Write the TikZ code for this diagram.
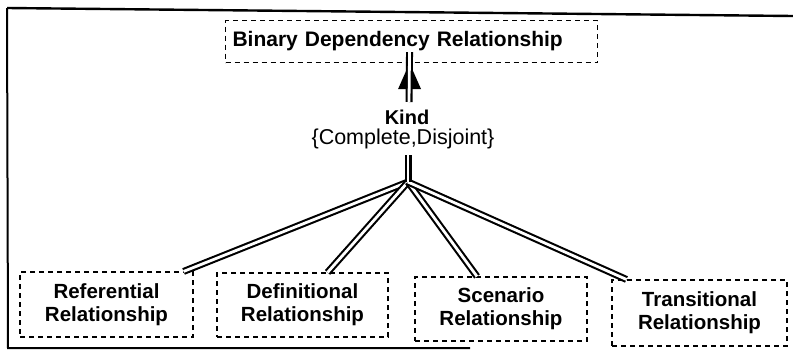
\documentclass[tikz,border=0pt]{standalone}
\usepackage{fontspec}
\setmainfont{Liberation Sans}
\begin{document}
\begin{tikzpicture}[x=1pt,y=-1pt,
  box/.style={draw, dash pattern=on 5pt off 4pt, line width=1.1pt, inner sep=0pt},
  lbl/.style={font=\fontsize{20.5}{23}\selectfont\bfseries, align=center},
  dbl/.style={line width=2.1pt, double=white, double distance=2.8pt},
  framerule/.style={line width=2.4pt}]
\useasboundingbox (0,0) rectangle (793,351);

% outer frame (open on the right)
\coordinate (f1) at (7,8);
\coordinate (f2) at (793,16);
\coordinate (f3) at (8,348);
\coordinate (f4) at (470,348);
\draw[framerule] (f1) -- (f2);
\draw[line width=2pt] (f1) -- (f3) -- (f4);

% supertype
\node[box, font=\fontsize{21}{24}\selectfont\bfseries, anchor=north west,
      minimum height=42pt, text width=358pt, inner xsep=7pt, align=left]
      (top) at (225,20) {Binary Dependency Relationship};

% discriminator labels
\node[font=\fontsize{20}{24}\selectfont\bfseries] (kind) at (407,117) {Kind};
\node[font=\fontsize{21.5}{24}\selectfont] (cd) at (403,139) {\{Complete,Disjoint\}};

% subtypes
\node[box, lbl, minimum width=173pt, minimum height=65pt] (ref)  at (106.5,304.5) {Referential\\Relationship};
\node[box, lbl, minimum width=171pt, minimum height=64pt] (def)  at (302.5,305)   {Definitional\\Relationship};
\node[box, lbl, minimum width=172pt, minimum height=64pt] (scen) at (501,309)     {Scenario\\Relationship};
\node[box, lbl, minimum width=175pt, minimum height=66pt] (trans) at (699.5,313)  {Transitional\\Relationship};

% generalisation arrow up to the supertype
\coordinate (tip) at ([xshift=-2pt]top.south);
\coordinate (shaftbot) at (409,102);
\fill (tip) -- ++(-11.5,26) -- ++(23,0) -- cycle;
\draw[dbl] (shaftbot) -- ([yshift=11pt]tip);

% branching connectors to the subtypes
\coordinate (stub) at (408,155);
\coordinate (j) at (408,182);
\draw[dbl] (j) -- ([xshift=-10pt]ref.north east);
\draw[dbl] (j) -- ([xshift=25pt]def.north);
\draw[dbl] (j) -- ([xshift=-24pt]scen.north);
\draw[dbl] (j) -- ([xshift=15pt]trans.north west);
\draw[dbl] (stub) -- (j);
\end{tikzpicture}
\end{document}
